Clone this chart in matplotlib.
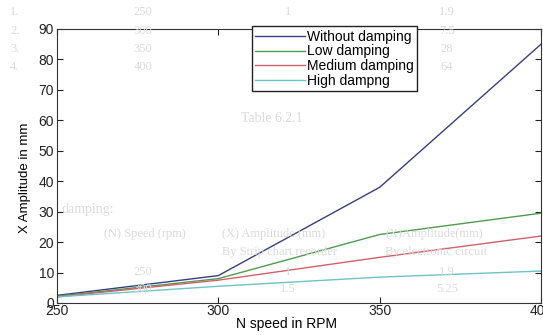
import matplotlib
matplotlib.use('Agg')
import matplotlib.pyplot as plt

# speed (rpm) and amplitude (mm)
speed = [250, 300, 350, 400]
no_damping = [2.5, 9, 38, 85]
low_damping = [2.2, 8, 22.5, 29.5]
medium_damping = [2, 7.5, 15, 22]
high_damping = [2, 5.5, 8.5, 10.5]

labels = ['Without damping', 'Low damping', 'Medium damping', 'High dampng']
colors = ['#35407e', '#4f9a4f', '#d0606c', '#6cc4c4']

# table printed on the page, showing faintly through the scan
top_rows = [['1.', '250', '1', '1.9'], ['2.', '300', '1.5', '7.5'],
            ['3.', '350', '2.5', '28'], ['4.', '400', '4.6', '64']]
bot_rows = [['1.', '250', '1', '1.9'], ['2.', '300', '1.5', '5.25']]

plt.rcParams['font.family'] = ['Liberation Sans', 'DejaVu Sans']

fig = plt.figure(figsize=(5.43, 3.35), dpi=100)
fig.patch.set_facecolor('white')

ghost = '#dadada'
serif = 'Liberation Serif'
cols_px = [15, 143, 288, 447]


def gtext(xp, yp, t, ha='center', size=9):
    fig.text(xp / 543, 1 - yp / 335, t, color=ghost, family=serif,
             fontsize=size, ha=ha, va='center', zorder=0)


for i, row in enumerate(top_rows):
    yp = 12 + 18.5 * i
    for j, (xp, t) in enumerate(zip(cols_px, row)):
        if j == 2 and i > 0:
            continue  # hidden behind the legend
        gtext(xp, yp, t)
for i, row in enumerate(bot_rows):
    yp = 272 + 17 * i
    for j, (xp, t) in enumerate(zip(cols_px, row)):
        if j == 0:
            continue
        gtext(xp, yp, t)
gtext(272, 118, 'Table 6.2.1', size=10)
gtext(62, 210, 'damping:', ha='left', size=10)
gtext(145, 234, '(N) Speed (rpm)')
gtext(222, 234, '(X) Amplitude (mm)', ha='left')
gtext(222, 252, 'By Strip chart recorder', ha='left')
gtext(385, 234, '(X)Amplitude(mm)', ha='left')
gtext(385, 252, 'By electronic circuit', ha='left')

ax = fig.add_axes([57 / 543, 1 - 303 / 335, (541 - 57) / 543, (303 - 29) / 335])
ax.patch.set_alpha(0)

series = [no_damping, low_damping, medium_damping, high_damping]
for vals, lab, col in zip(series, labels, colors):
    ax.plot(speed, vals, color=col, lw=1.0, label=lab)

ax.set_xlim(250, 400)
ax.set_ylim(0, 90)
ax.set_xticks(speed)
ax.set_yticks(range(0, 91, 10))
ax.tick_params(direction='in', top=True, right=True, length=4, labelsize=10,
               colors='#222222', pad=2)
ax.tick_params(axis='x', pad=1)
for s in ax.spines.values():
    s.set_color('#333333')
    s.set_linewidth(0.8)

ax.set_xlabel('N speed in RPM', fontsize=10)
ax.xaxis.set_label_coords(0.475, -0.05)
ax.set_ylabel('X Amplitude in mm', fontsize=9.5)
ax.yaxis.set_label_coords(-0.053, 0.456)

leg = ax.legend(loc='upper right', bbox_to_anchor=(0.744, 1.01), fontsize=10,
                fancybox=False, framealpha=1, handlelength=3.6,
                borderpad=0.25, labelspacing=0.05, handletextpad=0.1,
                borderaxespad=0.0)
leg.get_frame().set_edgecolor('#222222')
leg.get_frame().set_linewidth(1.0)

fig.savefig('out.png', dpi=100)
